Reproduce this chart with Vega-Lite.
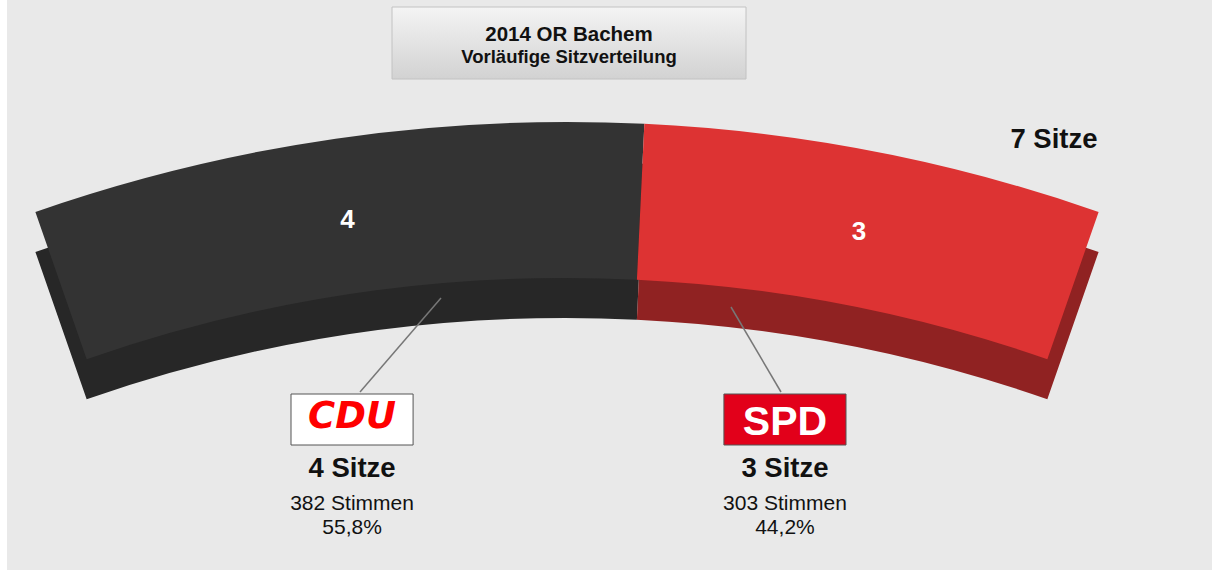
{
  "$schema": "https://vega.github.io/schema/vega-lite/v6.json",
  "width": 1205,
  "height": 570,
  "autosize": {"type": "none"},
  "padding": {"left": 7, "top": 0, "right": 0, "bottom": 0},
  "background": "#ffffff",
  "config": {"view": {"stroke": null, "fill": "#e9e9e9"}, "font": "Liberation Sans", "text": {"font": "Liberation Sans", "color": "#111111"}},
  "data": {"values": [
    {"party": "CDU", "seats": 4, "votes": 382, "seatsLabel": "4 Sitze", "votesLabel": "382 Stimmen", "share": "55,8%"},
    {"party": "SPD", "seats": 3, "votes": 303, "seatsLabel": "3 Sitze", "votesLabel": "303 Stimmen", "share": "44,2%"}
  ]},
  "layer": [
    {
      "data": {"values": [{}]},
      "mark": {"type": "rect", "fill": {"gradient": "linear", "x1": 0, "y1": 0, "x2": 0, "y2": 1, "stops": [{"offset": 0, "color": "#f4f4f4"}, {"offset": 1, "color": "#d2d2d2"}]}, "stroke": "#c2c2c2", "strokeWidth": 1},
      "encoding": {"x": {"value": 385}, "x2": {"value": 739}, "y": {"value": 7}, "y2": {"value": 79}}
    },
    {
      "data": {"values": [{}]},
      "mark": {"type": "text", "text": "2014 OR Bachem", "fontSize": 20.5, "fontWeight": "bold", "align": "center", "baseline": "alphabetic"},
      "encoding": {"x": {"value": 562}, "y": {"value": 41}}
    },
    {
      "data": {"values": [{}]},
      "mark": {"type": "text", "text": "Vorläufige Sitzverteilung", "fontSize": 18.5, "fontWeight": "bold", "align": "center", "baseline": "alphabetic"},
      "encoding": {"x": {"value": 562}, "y": {"value": 63}}
    },
    {
      "mark": {"type": "arc", "outerRadius": 1617, "innerRadius": 1461, "clip": true},
      "encoding": {
        "x": {"value": 560},
        "y": {"value": 1779},
        "theta": {"field": "seats", "type": "quantitative", "stack": true, "scale": {"range": [-0.335, 0.335]}},
        "color": {"field": "party", "type": "nominal", "scale": {"domain": ["CDU", "SPD"], "range": ["#272727", "#902222"]}, "legend": null}
      }
    },
    {
      "mark": {"type": "arc", "outerRadius": 1617, "innerRadius": 1461, "clip": true},
      "encoding": {
        "x": {"value": 560},
        "y": {"value": 1739},
        "theta": {"field": "seats", "type": "quantitative", "stack": true, "scale": {"range": [-0.335, 0.335]}},
        "color": {"field": "party", "type": "nominal", "scale": {"domain": ["CDU", "SPD"], "range": ["#333333", "#dd3333"]}, "legend": null}
      }
    },
    {
      "mark": {"type": "text", "radius": 1535, "fontSize": 26, "fontWeight": "bold", "align": "center", "baseline": "middle"},
      "encoding": {
        "x": {"value": 560},
        "y": {"value": 1739},
        "theta": {"field": "seats", "type": "quantitative", "stack": true, "scale": {"range": [-0.335, 0.335]}},
        "text": {"field": "seats", "type": "quantitative"},
        "color": {"field": "party", "type": "nominal", "scale": {"domain": ["CDU", "SPD"], "range": ["#ffffff", "#ffffff"]}, "legend": null}
      }
    },
    {
      "data": {"values": [{}]},
      "mark": {"type": "rule", "color": "#777777", "strokeWidth": 1.5},
      "encoding": {"x": {"value": 353}, "y": {"value": 392}, "x2": {"value": 434}, "y2": {"value": 298}}
    },
    {
      "data": {"values": [{}]},
      "mark": {"type": "rule", "color": "#777777", "strokeWidth": 1.5},
      "encoding": {"x": {"value": 774}, "y": {"value": 392}, "x2": {"value": 724}, "y2": {"value": 307}}
    },
    {
      "mark": {"type": "rect", "stroke": "#555555", "strokeWidth": 1},
      "encoding": {
        "x": {"field": "party", "type": "nominal", "scale": {"type": "band", "domain": ["CDU", "SPD"], "range": [284, 839], "paddingInner": 0.718, "paddingOuter": 0}, "axis": null},
        "y": {"value": 394},
        "y2": {"value": 445},
        "color": {"field": "party", "type": "nominal", "scale": {"domain": ["CDU", "SPD"], "range": ["#ffffff", "#e2001a"]}, "legend": null}
      }
    },
    {
      "transform": [{"filter": "datum.party === 'CDU'"}],
      "mark": {"type": "text", "font": "DejaVu Sans", "fontSize": 37, "fontWeight": "bold", "fontStyle": "italic", "fill": "#ff0000", "align": "center", "baseline": "alphabetic"},
      "encoding": {
        "x": {"field": "party", "type": "nominal", "scale": {"type": "band", "domain": ["CDU", "SPD"], "range": [284, 839], "paddingInner": 0.718, "paddingOuter": 0}, "axis": null},
        "y": {"value": 428},
        "text": {"field": "party"}
      }
    },
    {
      "transform": [{"filter": "datum.party === 'SPD'"}],
      "mark": {"type": "text", "fontSize": 41, "fontWeight": "bold", "fill": "#ffffff", "align": "center", "baseline": "alphabetic"},
      "encoding": {
        "x": {"field": "party", "type": "nominal", "scale": {"type": "band", "domain": ["CDU", "SPD"], "range": [284, 839], "paddingInner": 0.718, "paddingOuter": 0}, "axis": null},
        "y": {"value": 435},
        "text": {"field": "party"}
      }
    },
    {
      "mark": {"type": "text", "fontSize": 27.5, "fontWeight": "bold", "align": "center", "baseline": "alphabetic"},
      "encoding": {
        "x": {"field": "party", "type": "nominal", "scale": {"type": "band", "domain": ["CDU", "SPD"], "range": [284, 839], "paddingInner": 0.718, "paddingOuter": 0}, "axis": null},
        "y": {"value": 477},
        "text": {"field": "seatsLabel"}
      }
    },
    {
      "mark": {"type": "text", "fontSize": 21, "align": "center", "baseline": "alphabetic"},
      "encoding": {
        "x": {"field": "party", "type": "nominal", "scale": {"type": "band", "domain": ["CDU", "SPD"], "range": [284, 839], "paddingInner": 0.718, "paddingOuter": 0}, "axis": null},
        "y": {"value": 510},
        "text": {"field": "votesLabel"}
      }
    },
    {
      "mark": {"type": "text", "fontSize": 21, "align": "center", "baseline": "alphabetic"},
      "encoding": {
        "x": {"field": "party", "type": "nominal", "scale": {"type": "band", "domain": ["CDU", "SPD"], "range": [284, 839], "paddingInner": 0.718, "paddingOuter": 0}, "axis": null},
        "y": {"value": 534},
        "text": {"field": "share"}
      }
    },
    {
      "data": {"values": [{}]},
      "mark": {"type": "text", "text": "7 Sitze", "fontSize": 27.5, "fontWeight": "bold", "align": "center", "baseline": "alphabetic"},
      "encoding": {"x": {"value": 1047}, "y": {"value": 148}}
    }
  ],
  "resolve": {"scale": {"color": "independent"}}
}
